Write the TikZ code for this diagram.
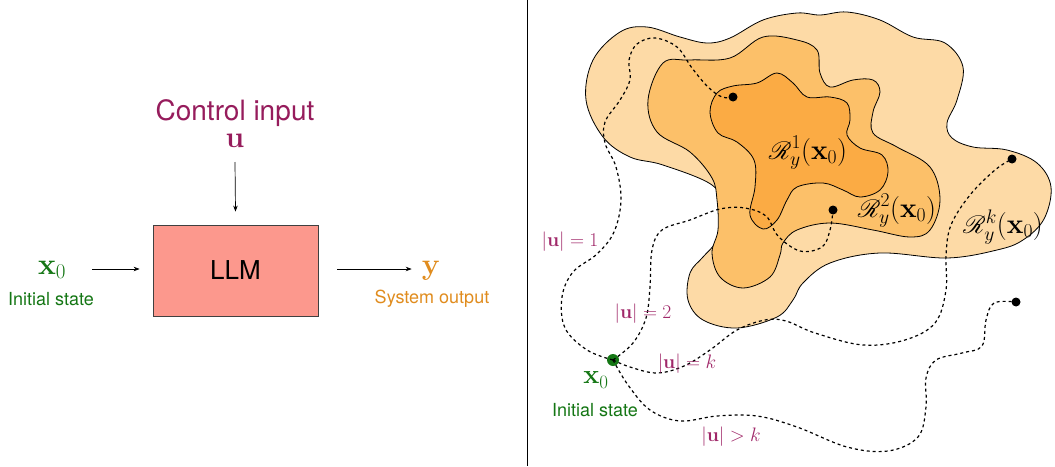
\documentclass[tikz,border=0pt]{standalone}
\usepackage{fix-cm}
\usepackage[no-math]{fontspec}
\setmainfont{TeX Gyre Heros}
\usepackage{mathrsfs}
\usetikzlibrary{arrows.meta}
\definecolor{ctrl}{RGB}{150,28,92}
\definecolor{ulab}{RGB}{160,40,105}
\definecolor{grn}{RGB}{20,118,20}
\definecolor{org}{RGB}{224,140,30}
\definecolor{llmfill}{RGB}{252,152,141}
\definecolor{outerc}{RGB}{253,218,166}
\definecolor{midc}{RGB}{252,192,105}
\definecolor{innerc}{RGB}{251,171,68}
\tikzset{
  arr/.style={-{Stealth[length=6pt,width=4.5pt]}, line width=0.7pt},
  blob/.style={draw=black, line width=0.8pt},
  traj/.style={draw=black, line width=1.2pt, dash pattern=on 3pt off 3pt},
  dotb/.style={circle, fill=black, inner sep=0pt, minimum size=9pt},
  dotg/.style={circle, fill=grn, inner sep=0pt, minimum size=12pt},
  txt/.style={inner sep=0pt, font=\fontsize{18}{20}\selectfont},
  mth/.style={inner sep=0pt, font=\fontsize{30}{32}\selectfont},
  rlab/.style={inner sep=0pt, font=\fontsize{28}{30}\selectfont},
  ulabel/.style={inner sep=0pt, text=ulab, font=\fontsize{19.5}{21}\selectfont},
}
\begin{document}
\begin{tikzpicture}[x=1pt,y=-1pt]
\useasboundingbox (0,0) rectangle (1055,466);
% divider
\draw[line width=0.8pt] (527,0) -- (527,466);

% ---------- left panel ----------
\node[inner sep=0pt, text=ctrl, font=\fontsize{28}{30}\selectfont] (ctl) at (235,113) {Control input};
\node[mth, text=ctrl] (u) at (235,141) {$\mathbf{u}$};
\node[draw=black!75, line width=0.8pt, fill=llmfill, minimum width=165pt, minimum height=91pt,
      font=\fontsize{26}{28}\selectfont] (llm) at (235.5,270.5) {LLM};
\node[mth, text=grn] (x0l) at (52,270) {$\mathbf{x}_0$};
\node[txt, text=grn] (isl) at (51,299) {Initial state};
\node[mth, text=org] (y) at (431,271) {$\mathbf{y}$};
\node[txt, text=org] (so) at (432,299) {System output};
\coordinate (ua) at (235,162);
\coordinate (xa) at (92,269);
\coordinate (ya) at (337,269);
\draw[arr] (ua) -- ([yshift=13pt]llm.north);
\draw[arr] (xa) -- ([xshift=-13pt]llm.west |- xa);
\draw[arr] ([xshift=19pt]llm.east |- ya) -- ([xshift=-10pt]y.west |- ya);

% ---------- right panel: reachable sets ----------
\path[blob, fill=outerc] plot[smooth cycle, tension=0.6] coordinates {
 (620,32) (647,27) (680,37) (707,43) (730,38) (763,20) (797,13) (820,15) (847,12)
 (880,20) (913,37) (945,43) (963,67) (957,100) (947,123) (952,138) (973,147)
 (1007,150) (1037,163) (1051,187) (1044,219) (1023,240) (997,250) (947,258)
 (880,253) (830,263) (803,283) (793,300) (777,317) (737,328) (703,320)
 (688,300) (690,273) (703,257) (717,240) (725,210) (712,185) (663,165) (630,157)
 (603,137) (586,100) (593,60)};
\path[blob, fill=midc] plot[smooth cycle, tension=0.6] coordinates {
 (663,63) (690,60) (730,58) (763,37) (797,40) (817,50) (820,73) (830,87)
 (853,80) (873,80) (880,92) (873,112) (873,133) (897,147) (930,167) (940,200)
 (930,230) (910,237) (873,230) (830,223) (797,230) (783,243) (780,255) (770,277)
 (743,288) (720,277) (712,253) (718,230) (717,200) (712,178) (690,152) (657,132)
 (648,100)};
\path[blob, fill=innerc] plot[smooth cycle, tension=0.6] coordinates {
 (710,112) (717,93) (733,86) (757,83) (777,73) (793,83) (807,97) (830,97)
 (847,103) (850,120) (847,135) (860,148) (882,155) (888,172) (880,190)
 (860,197) (843,190) (823,183) (797,187) (787,200) (777,220) (763,229)
 (750,215) (755,187) (754,160) (737,142) (718,133)};

% dots
\node[dotg] (x0d) at (613,360) {};
\node[dotb] (d1) at (733,97) {};
\node[dotb] (d2) at (833,210) {};
\node[dotb] (dk) at (1012,159) {};
\node[dotb] (dout) at (1016,302) {};

% trajectories
\draw[traj] plot[smooth, tension=0.6] coordinates {(x0d.center) (587,350) (565,328) (562,297)
 (573,272) (597,254) (614,232) (621,200) (616,167) (605,143) (605,122) (620,100)
 (630,80) (629,60) (637,44) (655,38) (677,47) (692,68) (708,87) (722,97) (d1.center)};
\draw[traj] plot[smooth, tension=0.6] coordinates {(x0d.center) (633,343) (646,318) (650,287)
 (652,250) (662,230) (690,220) (720,209) (745,208) (766,216) (778,236) (800,251)
 (822,247) (830,230) (d2.center)};
\draw[traj] plot[smooth, tension=0.6] coordinates {(x0d.center) (630,367) (657,373) (684,366)
 (710,350) (737,330) (765,320) (786,321) (815,333) (863,345) (905,340) (935,323)
 (946,290) (946,255) (951,225) (970,195) (995,170) (dk.center)};
\draw[traj] plot[smooth, tension=0.6] coordinates {(x0d.center) (628,385) (650,410) (680,421)
 (717,416) (757,416) (797,427) (847,447) (888,451) (918,437) (926,407) (926,378)
 (936,360) (962,353) (982,346) (986,320) (994,303) (dout.center)};

% labels
\node[rlab] (r1) at (808,153) {$\mathscr{R}^1_y(\mathbf{x}_0)$};
\node[rlab] (r2) at (897,211) {$\mathscr{R}^2_y(\mathbf{x}_0)$};
\node[rlab] (rk) at (1003,227) {$\mathscr{R}^k_y(\mathbf{x}_0)$};
\node[ulabel] (l1) at (570,242) {$|\mathbf{u}|=1$};
\node[ulabel] (l2) at (643,314) {$|\mathbf{u}|=2$};
\node[ulabel] (lk) at (687,364) {$|\mathbf{u}|=k$};
\node[ulabel] (lg) at (731,437) {$|\mathbf{u}|>k$};
\node[inner sep=0pt, text=grn, font=\fontsize{27}{29}\selectfont] (x0r) at (596,380) {$\mathbf{x}_0$};
\node[txt, text=grn] (isr) at (595,410) {Initial state};
\end{tikzpicture}
\end{document}
